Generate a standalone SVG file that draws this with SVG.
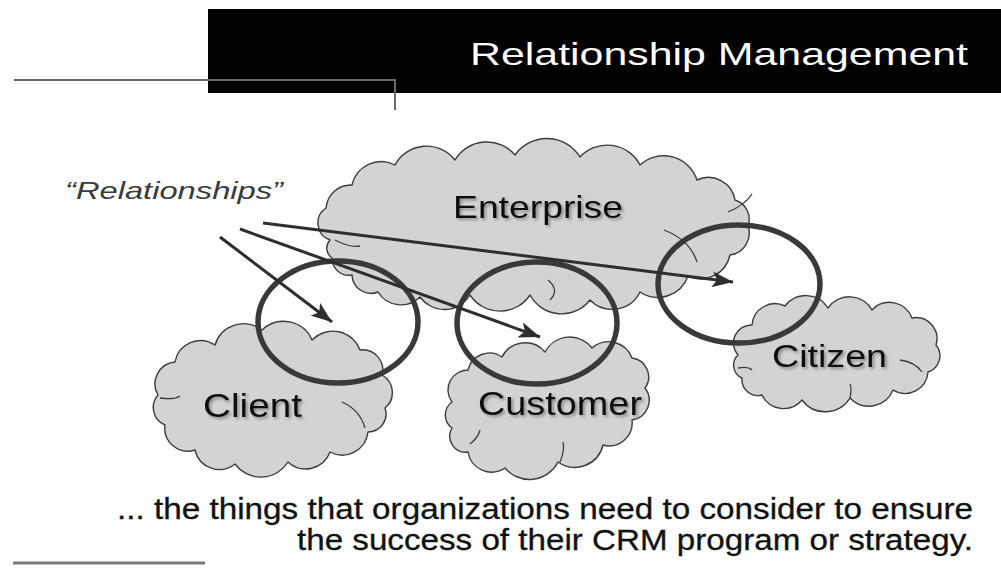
<svg xmlns="http://www.w3.org/2000/svg" width="1001" height="588" viewBox="0 0 1001 588">
<style>
.cloud{fill:#d3d3d3;stroke:#3c3c3c;stroke-width:1.4;stroke-linejoin:round}
.curl{fill:none;stroke:#3c3c3c;stroke-width:1.3}
.ring{fill:none;stroke:#393939;stroke-width:5.5}
.lbl{font-family:"Liberation Sans",Arial,sans-serif;fill:#111;filter:url(#sh)}
.arrow{fill:none;stroke:#2e2e2e;stroke-width:3}
.rule{stroke:#6a6a6a;stroke-width:2;fill:none}
.body{font-family:"Liberation Sans",Arial,sans-serif;font-size:29px;fill:#111;stroke:#111;stroke-width:0.3;text-anchor:end}
</style>
<defs>
<filter id="sh" x="-10%" y="-30%" width="130%" height="170%">
<feDropShadow dx="2" dy="2" stdDeviation="1.5" flood-color="#000" flood-opacity="0.35"/>
</filter>
<marker id="ah" markerUnits="userSpaceOnUse" markerWidth="22" markerHeight="16" refX="21" refY="8" orient="auto">
<path d="M0,0 L21,8 L0,16 L5,8 z" fill="#2e2e2e"/>
</marker>
</defs>
<rect width="1001" height="588" fill="#ffffff"/>

<g id="header">
<rect x="208" y="9" width="793" height="84" fill="#000"/>
<text x="470" y="65" font-family="'Liberation Sans',Arial,sans-serif" font-size="32" fill="#ffffff" textLength="498" lengthAdjust="spacingAndGlyphs">Relationship Management</text>
<path class="rule" d="M14,80 H395 V110"/>
</g>

<g id="enterprise">
<path class="cloud" d="M330,240 A18,18 0 0 1 326,208 A25,25 0 0 1 352,185 A30,30 0 0 1 395,165 A36,36 0 0 1 455,160 A37,37 0 0 1 515,155 A39,39 0 0 1 580,157 A37,37 0 0 1 640,165 A35,35 0 0 1 697,180 A27,27 0 0 1 735,200 A20,20 0 0 1 748,226 A22,22 0 0 1 730,255 A30,30 0 0 1 688,276 A32,32 0 0 1 640,292 A31,31 0 0 1 590,300 A36,36 0 0 1 530,295 A36,36 0 0 1 470,295 A30,30 0 0 1 420,297 A27,27 0 0 1 378,292 A19,19 0 0 1 352,275 A17,17 0 0 1 332,258 A12,12 0 0 1 330,240 Z"/>
<path class="curl" d="M728,212 Q745,205 752,194"/>
<path class="curl" d="M664,230 Q690,240 697,262"/>
<path class="curl" d="M550,300 Q560,290 548,280"/>
<path class="curl" d="M335,240 Q350,248 360,246"/>
<text class="lbl" x="453" y="218" font-size="32" textLength="170" lengthAdjust="spacingAndGlyphs">Enterprise</text>
</g>

<g id="client">
<path class="cloud" d="M158,395 A22,22 0 0 1 175,362 A26,26 0 0 1 215,345 A30,30 0 0 1 262,330 A31,31 0 0 1 312,340 A29,29 0 0 1 360,350 A20,20 0 0 1 382,375 A20,20 0 0 1 385,408 A18,18 0 0 1 368,432 A26,26 0 0 1 330,452 A26,26 0 0 1 288,462 A32,32 0 0 1 235,464 A25,25 0 0 1 195,450 A23,23 0 0 1 165,425 A19,19 0 0 1 158,395 Z"/>
<path class="curl" d="M342,402 Q360,410 365,428"/>
<path class="curl" d="M160,398 Q175,400 180,396"/>
<text class="lbl" x="203" y="417" font-size="33" textLength="99" lengthAdjust="spacingAndGlyphs">Client</text>
</g>

<g id="customer">
<path class="cloud" d="M452,402 A20,20 0 0 1 468,370 A22,22 0 0 1 502,357 A26,26 0 0 1 545,352 A28,28 0 0 1 592,348 A25,25 0 0 1 632,358 A19,19 0 0 1 645,388 A20,20 0 0 1 632,420 A23,23 0 0 1 603,445 A29,29 0 0 1 558,462 A32,32 0 0 1 505,468 A24,24 0 0 1 468,452 A16,16 0 0 1 452,428 A16,16 0 0 1 452,402 Z"/>
<path class="curl" d="M470,444 Q478,438 480,430"/>
<path class="curl" d="M560,462 Q565,450 563,442"/>
<text class="lbl" x="478" y="415" font-size="33" textLength="164" lengthAdjust="spacingAndGlyphs">Customer</text>
</g>

<g id="citizen">
<path class="cloud" d="M738,355 A18,18 0 0 1 752,325 A23,23 0 0 1 785,306 A26,26 0 0 1 828,308 A26,26 0 0 1 872,310 A24,24 0 0 1 912,318 A21,21 0 0 1 936,345 A17,17 0 0 1 928,372 A23,23 0 0 1 893,390 A26,26 0 0 1 850,398 A29,29 0 0 1 802,400 A24,24 0 0 1 762,395 A16,16 0 0 1 742,378 A14,14 0 0 1 738,355 Z"/>
<path class="curl" d="M900,360 Q915,362 922,372"/>
<path class="curl" d="M850,398 Q852,388 850,384"/>
<path class="curl" d="M738,368 Q748,366 752,370"/>
<text class="lbl" x="772" y="367" font-size="31" textLength="115" lengthAdjust="spacingAndGlyphs">Citizen</text>
</g>

<g id="rings">
<ellipse class="ring" cx="338" cy="322" rx="80" ry="61"/>
<ellipse class="ring" cx="537" cy="323" rx="80" ry="61"/>
<ellipse class="ring" cx="739" cy="284" rx="81" ry="59"/>
</g>

<g id="relationships">
<text x="65" y="199" font-family="'Liberation Sans',Arial,sans-serif" font-style="italic" font-size="24" fill="#3a3a3a" textLength="218" lengthAdjust="spacingAndGlyphs">“Relationships”</text>
</g>

<g id="connectors">
<line class="arrow" x1="220" y1="237" x2="332" y2="322" marker-end="url(#ah)"/>
<line class="arrow" x1="240" y1="229" x2="540" y2="337" marker-end="url(#ah)"/>
<line class="arrow" x1="263" y1="223" x2="733" y2="282" marker-end="url(#ah)"/>
</g>

<g id="footer">
<text class="body" x="973" y="519" textLength="856" lengthAdjust="spacingAndGlyphs">... the things that organizations need to consider to ensure</text>
<text class="body" x="973" y="550" textLength="676" lengthAdjust="spacingAndGlyphs">the success of their CRM program or strategy.</text>
<line x1="13" y1="563" x2="205" y2="563" stroke="#7a7a7a" stroke-width="3"/>
</g>
</svg>
